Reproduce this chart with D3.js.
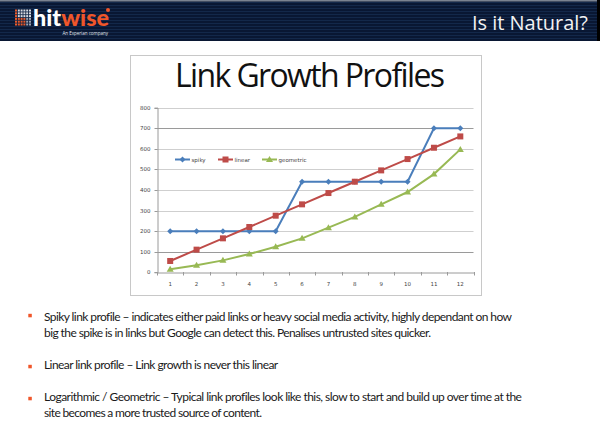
<!DOCTYPE html>
<html><head><meta charset="utf-8">
<script src="https://cdn.jsdelivr.net/npm/d3@7/dist/d3.min.js"></script>
<style>html,body{margin:0;padding:0;background:#fff;}svg{display:block;}</style>
</head><body>
<script>
const categories = [1,2,3,4,5,6,7,8,9,10,11,12];
const spiky = [200,200,200,200,200,440,440,440,440,440,700,700];
const linear = [55,110,165,220,275,330,385,440,495,550,605,660];
const geometric = [15,34,58,89,124,165,217,269,330,390,477,597];
const yTicks = [0,100,200,300,400,500,600,700,800];
const seriesNames = ["spiky","linear","geometric"];
const headerTitle = "Is it Natural?";
const chartTitle = "Link Growth Profiles";
const bullets = [
  ["Spiky link profile \u2013 indicates either paid links or heavy social media activity, highly dependant on how",
   "big the spike is in links but Google can detect this. Penalises untrusted sites quicker."],
  ["Linear link profile \u2013 Link growth is never this linear"],
  ["Logarithmic / Geometric \u2013 Typical link profiles look like this, slow to start and build up over time at the",
   "site becomes a more trusted source of content."]
];

const W=600,H=422;
const svg=d3.select("body").append("svg").attr("width",W).attr("height",H);
const defs=svg.append("defs");
const pat=defs.append("pattern").attr("id","stripes").attr("width",4).attr("height",3).attr("patternUnits","userSpaceOnUse");
pat.append("rect").attr("width",4).attr("height",3).attr("fill","#091733");
pat.append("rect").attr("y",2).attr("width",4).attr("height",1).attr("fill","#13284a");

function fit(sel,target){
  const node=sel.node();
  const w=node.getComputedTextLength();
  const n=sel.text().length;
  if(n>1) sel.attr("letter-spacing",((target-w)/(n-1)).toFixed(3));
  return sel;
}

// header
svg.append("rect").attr("x",0).attr("y",0).attr("width",W).attr("height",41).attr("fill","url(#stripes)");
svg.append("rect").attr("x",0).attr("y",0).attr("width",W).attr("height",1.5).attr("fill","#7a8290");
svg.append("rect").attr("x",597).attr("y",0).attr("width",3).attr("height",41).attr("fill","#000");
const lg=svg.append("g");
for(let r=0;r<6;r++)for(let c=0;c<6;c++){
  const orange = (r>=3 && c<4) || (c===0);
  lg.append("rect").attr("x",15+c*2.8).attr("y",9.5+r*2.8).attr("width",2).attr("height",2)
    .attr("fill", orange?"#e85a2c":(r<3?"#d8dce4":"#9aa3b3"));
}
const logo=svg.append("text").attr("x",33).attr("y",25.5).attr("font-family","Lato, 'DejaVu Sans', sans-serif")
  .attr("font-weight","900").attr("font-size",22).attr("textLength",76).attr("lengthAdjust","spacingAndGlyphs");
logo.append("tspan").attr("fill","#ffffff").text("hit");
logo.append("tspan").attr("fill","#f0562a").text("wise");
svg.append("circle").attr("cx",108).attr("cy",10).attr("r",2).attr("fill","#f0562a");
svg.append("text").attr("x",108).attr("y",35).attr("text-anchor","end").attr("fill","#e0e4ea")
  .attr("font-family","'Open Sans', sans-serif").attr("font-size",4.5).text("An Experian company");
fit(svg.append("text").attr("x",472).attr("y",30).attr("fill","#f2f2f2")
  .attr("font-family","'Open Sans', sans-serif").attr("font-size",20).text(headerTitle),116);

// chart frame
svg.append("rect").attr("x",130.5).attr("y",55.5).attr("width",351).attr("height",240)
  .attr("fill","#fff").attr("stroke","#c8c8c8").attr("stroke-width",1);
fit(svg.append("text").attr("x",175).attr("y",87).attr("fill","#111")
  .attr("font-family","'Open Sans', sans-serif").attr("font-size",32).text(chartTitle),270);

const x=d3.scaleBand().domain(categories).range([157,473.5]);
const y=d3.scaleLinear().domain([0,800]).range([272.3,107.6]);

svg.append("g").selectAll("line").data(yTicks.filter(d=>d>0)).join("line")
  .attr("x1",157).attr("x2",473.5).attr("y1",d=>Math.round(y(d))+0.5).attr("y2",d=>Math.round(y(d))+0.5)
  .attr("stroke",d=>(d===700||d===100)?"#9a9a9a":"#cfcfcf").attr("stroke-width",1);

const yAxis=svg.append("g").attr("transform","translate(157.5,0)")
  .call(d3.axisLeft(y).tickValues(yTicks).tickSize(3).tickPadding(4));
yAxis.select(".domain").attr("stroke","#9a9a9a");
yAxis.selectAll(".tick line").attr("stroke","#9a9a9a");
yAxis.selectAll("text").attr("font-family","'DejaVu Sans', sans-serif").attr("font-size",5.5).attr("fill","#444");
yAxis.selectAll(".tick").attr("transform",d=>`translate(0,${Math.round(y(d))+0.5})`);

const xAxis=svg.append("g").attr("transform",`translate(0,${Math.round(y(0))+0.5})`)
  .call(d3.axisBottom(x).tickSize(0).tickPadding(10));
xAxis.select(".domain").attr("stroke","#9a9a9a");
xAxis.selectAll("text").attr("font-family","'DejaVu Sans', sans-serif").attr("font-size",5.5).attr("fill","#444");
svg.append("g").selectAll("line").data(categories.concat([13])).join("line")
  .attr("x1",(d,i)=>Math.round(157+i*x.step())+0.5).attr("x2",(d,i)=>Math.round(157+i*x.step())+0.5)
  .attr("y1",Math.round(y(0))).attr("y2",Math.round(y(0))+3.5).attr("stroke","#9a9a9a");

const colors={spiky:"#4a7ebb",linear:"#be4b48",geometric:"#98b954"};
const data={spiky,linear,geometric};
const line=d3.line().x((d,i)=>x(categories[i])+x.bandwidth()/2).y(d=>y(d));
function marker(g,name,cx,cy){
  if(name==="spiky"){
    g.append("path").attr("d",`M${cx},${cy-3}L${cx+3},${cy}L${cx},${cy+3}L${cx-3},${cy}Z`).attr("fill",colors.spiky);
  }else if(name==="linear"){
    g.append("rect").attr("x",cx-3).attr("y",cy-3).attr("width",6).attr("height",6).attr("fill",colors.linear);
  }else{
    g.append("path").attr("d",`M${cx},${cy-3.5}L${cx+3.5},${cy+2.5}L${cx-3.5},${cy+2.5}Z`).attr("fill",colors.geometric);
  }
}
seriesNames.forEach(name=>{
  svg.append("path").datum(data[name]).attr("d",line).attr("fill","none")
    .attr("stroke",colors[name]).attr("stroke-width",2);
  const g=svg.append("g");
  data[name].forEach((v,i)=>marker(g,name,x(categories[i])+x.bandwidth()/2,y(v)));
});

const legX=[175,218,262];
seriesNames.forEach((name,i)=>{
  const g=svg.append("g");
  g.append("line").attr("x1",legX[i]).attr("x2",legX[i]+15).attr("y1",159.5).attr("y2",159.5)
    .attr("stroke",colors[name]).attr("stroke-width",2);
  marker(g,name,legX[i]+7.5,159.5);
  g.append("text").attr("x",legX[i]+16.5).attr("y",161.5).attr("font-family","'DejaVu Sans', sans-serif")
    .attr("font-size",5.5).attr("fill","#444").text(name);
});

const lineW=[[468,387],[234],[478,218]];
const lineY=[[321,337],[369],[401,417]];
const bulletY=[314,365,397];
bullets.forEach((b,i)=>{
  svg.append("rect").attr("x",28.3).attr("y",bulletY[i]-0.2).attr("width",3.5).attr("height",3.5).attr("fill","#f0562a");
  b.forEach((t,j)=>{
    fit(svg.append("text").attr("x",44).attr("y",lineY[i][j]).attr("fill","#1a1a1a")
      .attr("font-family","Lato, 'Open Sans', sans-serif").attr("font-size",12).text(t),lineW[i][j]);
  });
});
</script>
</body></html>
